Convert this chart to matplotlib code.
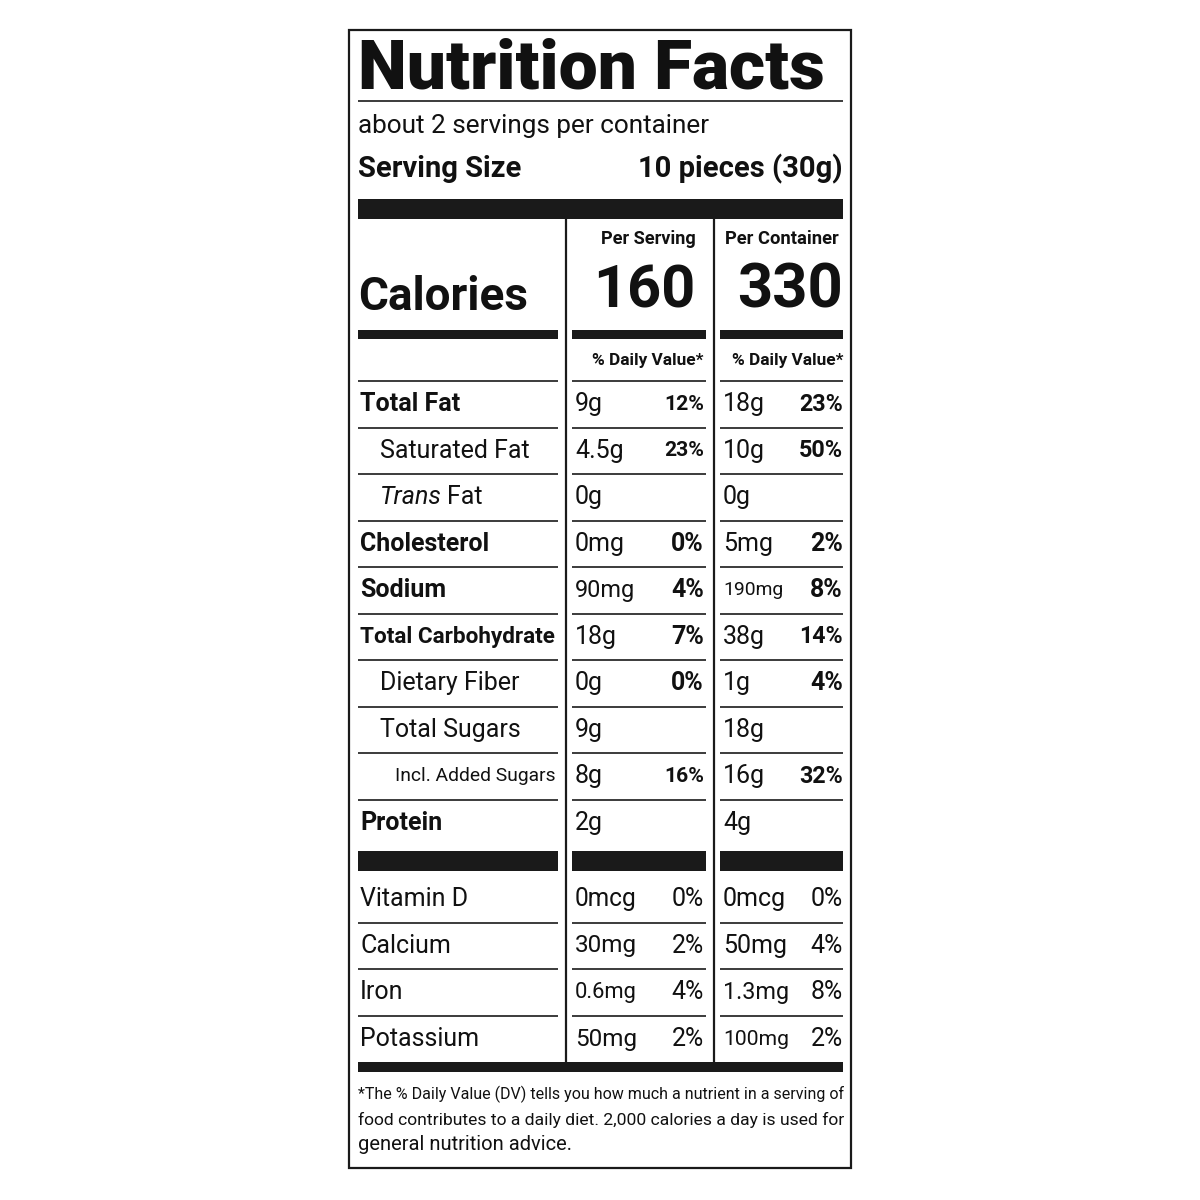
import matplotlib
matplotlib.use("Agg")
import matplotlib.pyplot as plt

title = "Nutrition Facts"
servings = "about 2 servings per container"
serving_size = ("Serving Size", "10 pieces (30g)")
calories = ["160", "330"]
nutrients = ["Total Fat", "Saturated Fat", "Trans Fat", "Cholesterol", "Sodium",
             "Total Carbohydrate", "Dietary Fiber", "Total Sugars", "Incl. Added Sugars", "Protein"]
indent = [0, 1, 1, 0, 0, 0, 1, 1, 2, 0]
bold = [True, False, False, True, True, True, False, False, False, True]
amt_serv = ["9g", "4.5g", "0g", "0mg", "90mg", "18g", "0g", "9g", "8g", "2g"]
dv_serv = ["12%", "23%", "", "0%", "4%", "7%", "0%", "", "16%", ""]
amt_cont = ["18g", "10g", "0g", "5mg", "190mg", "38g", "1g", "18g", "16g", "4g"]
dv_cont = ["23%", "50%", "", "2%", "8%", "14%", "4%", "", "32%", ""]
vitamins = ["Vitamin D", "Calcium", "Iron", "Potassium"]
vit_amt_serv = ["0mcg", "30mg", "0.6mg", "50mg"]
vit_dv_serv = ["0%", "2%", "4%", "2%"]
vit_amt_cont = ["0mcg", "50mg", "1.3mg", "100mg"]
vit_dv_cont = ["0%", "4%", "8%", "2%"]
footnote = ["*The % Daily Value (DV) tells you how much a nutrient in a serving of",
            "food contributes to a daily diet. 2,000 calories a day is used for",
            "general nutrition advice."]

FN = ["Liberation Sans Narrow", "Roboto", "DejaVu Sans"]
FW = ["Roboto", "DejaVu Sans"]

fig = plt.figure(figsize=(12, 12), dpi=100)
ax = fig.add_axes([0, 0, 1, 1])
ax.set_xlim(0, 1200); ax.set_ylim(1200, 0); ax.axis("off")
fig.canvas.draw()
rend = fig.canvas.get_renderer()

def T(x, y, s, size, ha="left", weight="normal", family=FN, style="normal", maxw=None):
    t = ax.text(x, y, s, fontsize=size, ha=ha, va="center", fontweight=weight,
                family=family, fontstyle=style, color="#111")
    if maxw and s:
        w = t.get_window_extent(rend).width
        if w > maxw:
            t.set_fontsize(size * maxw / w)
    return t

def bar(x0, x1, y0, y1):
    ax.fill_between([x0, x1], y0, y1, color="#1a1a1a", lw=0)

def hl(x0, x1, y, lw=1.2):
    ax.plot([x0, x1], [y, y], color="#1a1a1a", lw=lw, solid_capstyle="butt")

L, R = 358, 843
C1 = (572, 706); C2 = (720, 843)
ax.add_patch(plt.Rectangle((349, 30), 502, 1138, fill=False, lw=1.6, ec="#1a1a1a"))

T(L, 70, title, 50, weight="heavy", family=FW, maxw=R - L)
hl(L, R, 101)
T(L, 126, servings, 19, maxw=352)
T(L, 169, serving_size[0], 21, weight="bold", maxw=170)
T(R, 169, serving_size[1], 21, weight="bold", ha="right", maxw=212)
bar(L, R, 199, 219)
for x in (566, 714):
    ax.plot([x, x], [219, 1062], color="#1a1a1a", lw=1.6)
T(648, 239, "Per Serving", 14, weight="bold", ha="center", maxw=95)
T(782, 239, "Per Container", 14, weight="bold", ha="center", maxw=114)
T(L, 297, "Calories", 38, weight="bold", maxw=170)
T(696, 291, calories[0], 48, weight="bold", ha="right", maxw=102)
T(R, 291, calories[1], 48, weight="bold", ha="right", maxw=106)
for a, b in ((L, 558), C1, C2):
    bar(a, b, 330, 339)
T(C1[1] - 2, 361, "% Daily Value*", 15, weight="bold", ha="right", maxw=112)
T(R, 361, "% Daily Value*", 15, weight="bold", ha="right", maxw=112)
top = 381; h = 46.5
cols = ((L, 558), C1, C2)
SZ = 18
for i, n in enumerate(nutrients):
    y0 = top + i * h
    for a, b in cols:
        hl(a, b, y0)
    yc = y0 + h / 2
    x = L + 2 + [0, 20, 35][indent[i]]
    if n == "Trans Fat":
        t = T(x, yc, "Trans", SZ, style="italic")
        w = t.get_window_extent(rend).width
        T(x + w + 5, yc, "Fat", SZ)
    else:
        T(x, yc, n, SZ, weight="bold" if bold[i] else "normal", maxw=555 - x)
    T(C1[0] + 3, yc, amt_serv[i], SZ, maxw=60)
    T(C1[1] - 2, yc, dv_serv[i], SZ, weight="bold", ha="right", maxw=40)
    T(C2[0] + 3, yc, amt_cont[i], SZ, maxw=60)
    T(R, yc, dv_cont[i], SZ, weight="bold", ha="right", maxw=44)
for a, b in cols:
    bar(a, b, 851, 871)
for i, v in enumerate(vitamins):
    y0 = 876 + i * 46.7
    yc = y0 + 23
    if i > 0:
        for a, b in cols:
            hl(a, b, y0)
    T(L + 2, yc, v, SZ)
    T(C1[0] + 3, yc, vit_amt_serv[i], SZ, maxw=62)
    T(C1[1] - 2, yc, vit_dv_serv[i], SZ, ha="right", maxw=34)
    T(C2[0] + 3, yc, vit_amt_cont[i], SZ, maxw=66)
    T(R, yc, vit_dv_cont[i], SZ, ha="right", maxw=34)
bar(L, R, 1062, 1072)
for i, s in enumerate(footnote):
    T(L, 1094 + i * 25.5, s, 14.5, maxw=484)
fig.savefig("out.png", dpi=100)
